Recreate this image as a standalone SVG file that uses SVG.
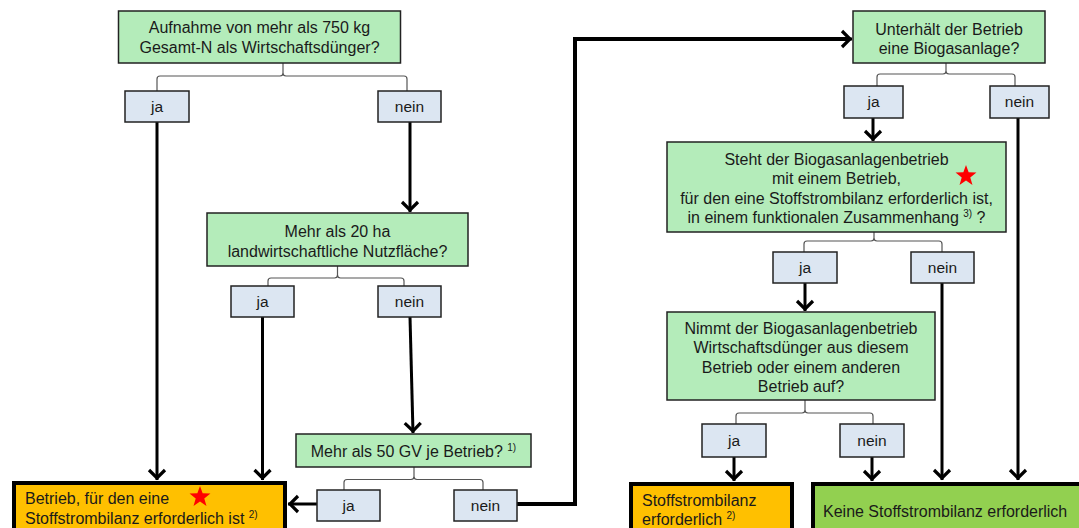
<svg xmlns="http://www.w3.org/2000/svg" width="1079" height="528" viewBox="0 0 1079 528">
<defs>
<style>
text{font-family:"Liberation Sans",Arial,sans-serif;font-size:16px;fill:#1a1a1a}
.c{text-anchor:middle}
.l{font-size:15.5px}
.q{fill:#b4ecba;stroke:#222;stroke-width:1.5}
.a{fill:#dce6f2;stroke:#222;stroke-width:1.5}
.o{fill:#ffc000;stroke:#000;stroke-width:4}
.g{fill:#92d050;stroke:#000;stroke-width:4}
.br{fill:none;stroke:#555;stroke-width:1.2}
.k{fill:none;stroke:#000;stroke-width:3}
.kk{fill:none;stroke:#000;stroke-width:4}
.s{font-size:10px}
</style>
<marker id="ah" viewBox="-14 -10 16 20" refX="0" refY="0" markerWidth="16" markerHeight="20" orient="auto" markerUnits="userSpaceOnUse">
<path d="M-10,-8 L-2,0 L-10,8" fill="none" stroke="#000" stroke-width="3.2"/>
</marker>
<path id="star" d="M0,-11 L2.65,-3.64 L10.46,-3.40 L4.28,1.39 L6.47,8.90 L0,4.5 L-6.47,8.90 L-4.28,1.39 L-10.46,-3.40 L-2.65,-3.64 Z" fill="#ff0000"/>
</defs>

<g id="connectors">
<path class="br" d="M157,91 V79 Q157,76 160,76 H280 Q283,76 283,73 V62 M283,73 Q283,76 286,76 H404 Q407,76 407,79 V91"/>
<path class="br" d="M268,286 V281 Q268,278 271,278 H334.5 Q337.5,278 337.5,275 V266 M337.5,275 Q337.5,278 340.5,278 H401 Q404,278 404,281 V286"/>
<path class="br" d="M344,490 V482.5 Q344,479.5 347,479.5 H411 Q414,479.5 414,476.5 V467 M414,476.5 Q414,479.5 417,479.5 H480 Q483,479.5 483,482.5 V490"/>
<path class="br" d="M877,86 V77 Q877,74 880,74 H943 Q946,74 946,71 V63 M946,71 Q946,74 949,74 H1012 Q1015,74 1015,77 V86"/>
<path class="br" d="M804,252 V244 Q804,241 807,241 H871 Q874,241 874,238 V232 M874,238 Q874,241 877,241 H939 Q942,241 942,244 V252"/>
<path class="br" d="M736,424 V416 Q736,413 739,413 H802 Q805,413 805,410 V400 M805,410 Q805,413 808,413 H870 Q873,413 873,416 V424"/>

<path class="k" marker-end="url(#ah)" d="M157,122 V480"/>
<path class="k" marker-end="url(#ah)" d="M410,122 V212"/>
<path class="k" marker-end="url(#ah)" d="M262.5,317 V480"/>
<path class="k" marker-end="url(#ah)" d="M410,317 L413,433"/>
<path class="k" marker-end="url(#ah)" d="M317,504 H288"/>
<path class="kk" d="M517,504 H575 V39 H848"/>
<path class="k" marker-end="url(#ah)" d="M840,39 H852"/>
<path class="k" marker-end="url(#ah)" d="M873,118 V141"/>
<path class="k" marker-end="url(#ah)" d="M1018,118 V480"/>
<path class="k" marker-end="url(#ah)" d="M805,283 V311"/>
<path class="k" marker-end="url(#ah)" d="M942,283 V480"/>
<path class="k" marker-end="url(#ah)" d="M734,457 V481"/>
<path class="k" marker-end="url(#ah)" d="M872,457 V481"/>
</g>

<g id="q1">
<rect class="q" x="118.5" y="11" width="282" height="52"/>
<text class="c" x="259.5" y="33">Aufnahme von mehr als 750 kg</text>
<text class="c" x="259.5" y="53">Gesamt-N als Wirtschaftsdünger?</text>
</g>
<g id="ja1"><rect class="a" x="125" y="91" width="64" height="31"/><text class="c l" x="157" y="112">ja</text></g>
<g id="nein1"><rect class="a" x="378" y="91" width="63" height="31"/><text class="c l" x="409.5" y="112">nein</text></g>

<g id="q2">
<rect class="q" x="207" y="213" width="261" height="53"/>
<text class="c" x="337.5" y="236.5">Mehr als 20 ha</text>
<text class="c" x="337.5" y="256.5">landwirtschaftliche Nutzfläche?</text>
</g>
<g id="ja2"><rect class="a" x="231" y="286" width="63" height="31"/><text class="c l" x="262.5" y="307">ja</text></g>
<g id="nein2"><rect class="a" x="378" y="286" width="63" height="31"/><text class="c l" x="409.5" y="307">nein</text></g>

<g id="q3">
<rect class="q" x="296" y="434" width="235" height="33"/>
<text class="c" x="413.5" y="457">Mehr als 50 GV je Betrieb? <tspan class="s" dy="-6">1)</tspan></text>
</g>
<g id="ja3"><rect class="a" x="317" y="490" width="63" height="31"/><text class="c l" x="348.5" y="511">ja</text></g>
<g id="nein3"><rect class="a" x="454" y="490" width="63" height="31"/><text class="c l" x="485.5" y="511">nein</text></g>

<g id="result1">
<rect class="o" x="14" y="483" width="271" height="60"/>
<text x="25" y="504">Betrieb, für den eine</text>
<text x="25" y="524">Stoffstrombilanz erforderlich ist <tspan class="s" dy="-6">2)</tspan></text>
<use href="#star" x="200" y="497"/>
</g>

<g id="q4">
<rect class="q" x="853" y="11" width="192" height="52"/>
<text class="c" x="949" y="34.5">Unterhält der Betrieb</text>
<text class="c" x="949" y="53.5">eine Biogasanlage?</text>
</g>
<g id="ja4"><rect class="a" x="844" y="86" width="59" height="32"/><text class="c l" x="873.5" y="107">ja</text></g>
<g id="nein4"><rect class="a" x="990" y="86" width="59" height="32"/><text class="c l" x="1019.5" y="107">nein</text></g>

<g id="q5">
<rect class="q" x="667" y="142" width="339" height="90"/>
<text class="c" x="836.5" y="164.5">Steht der Biogasanlagenbetrieb</text>
<text class="c" x="836.5" y="184">mit einem Betrieb,</text>
<text class="c" x="836.5" y="203.5">für den eine Stoffstrombilanz erforderlich ist,</text>
<text class="c" x="836.5" y="222.5">in einem funktionalen Zusammenhang <tspan class="s" dy="-6">3)</tspan><tspan dy="6"> ?</tspan></text>
<use href="#star" x="966" y="176"/>
</g>
<g id="ja5"><rect class="a" x="773" y="252" width="64" height="31"/><text class="c l" x="805" y="273">ja</text></g>
<g id="nein5"><rect class="a" x="911" y="252" width="63" height="31"/><text class="c l" x="942.5" y="273">nein</text></g>

<g id="q6">
<rect class="q" x="667" y="312" width="268" height="88"/>
<text class="c" x="801" y="333.5">Nimmt der Biogasanlagenbetrieb</text>
<text class="c" x="801" y="353">Wirtschaftsdünger aus diesem</text>
<text class="c" x="801" y="372.5">Betrieb oder einem anderen</text>
<text class="c" x="801" y="391.5">Betrieb auf?</text>
</g>
<g id="ja6"><rect class="a" x="702" y="424" width="64" height="33"/><text class="c l" x="734" y="446">ja</text></g>
<g id="nein6"><rect class="a" x="840" y="424" width="64" height="33"/><text class="c l" x="872" y="446">nein</text></g>

<g id="result2">
<rect class="o" x="631" y="484" width="161" height="60"/>
<text x="642" y="505.5">Stoffstrombilanz</text>
<text x="642" y="525">erforderlich <tspan class="s" dy="-6">2)</tspan></text>
</g>
<g id="result3">
<rect class="g" x="813" y="484" width="280" height="60"/>
<text x="823" y="516.5">Keine Stoffstrombilanz erforderlich</text>
</g>
</svg>
